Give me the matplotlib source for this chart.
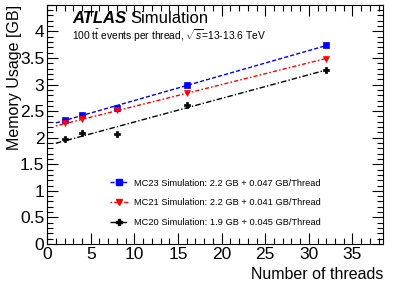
import matplotlib
matplotlib.use("Agg")
import matplotlib.pyplot as plt
import numpy as np
from matplotlib.ticker import MultipleLocator

plt.rcParams['font.family'] = ['Liberation Sans', 'DejaVu Sans']
plt.rcParams['mathtext.fontset'] = 'custom'
plt.rcParams['mathtext.rm'] = 'Liberation Sans'
plt.rcParams['mathtext.it'] = 'Liberation Sans:italic'

threads = [2, 4, 8, 16, 32]
mc23 = [2.34, 2.43, 2.56, 3.00, 3.74]
mc21 = [2.27, 2.35, 2.53, 2.84, 3.49]
mc20 = [1.97, 2.08, 2.07, 2.62, 3.27]

fit_intercepts = [2.23, 2.18, 1.85]
fit_slopes = [0.047, 0.041, 0.0445]
fit_range = [1, 32]

labels = ["MC23 Simulation: 2.2 GB + 0.047 GB/Thread",
          "MC21 Simulation: 2.2 GB + 0.041 GB/Thread",
          "MC20 Simulation: 1.9 GB + 0.045 GB/Thread"]

fig = plt.figure(figsize=(3.99, 2.86), dpi=100)
ax = fig.add_axes([0.118, 0.147, 0.842, 0.836])

series = [mc23, mc21, mc20]
colors = ['#0000ff', '#ff0000', '#000000']
markers = ['s', 'v', 'P']
msizes = [5, 5, 4.5]
linestyles = [(0, (3, 1.5)), (0, (1.2, 1.5, 3, 1.5)), (0, (4, 1.5, 1, 1.5))]

xf = np.array(fit_range, dtype=float)
for y, c, m, ms, ls, b0, b1, lab in zip(series, colors, markers, msizes, linestyles,
                                         fit_intercepts, fit_slopes, labels):
    ax.plot(xf, b0 + b1 * xf, color=c, linestyle=ls, linewidth=1.0)
    ax.plot(threads, y, marker=m, color=c, linestyle='none', markersize=ms,
            markeredgewidth=0.5)
    ax.plot([], [], color=c, linestyle=ls, linewidth=1.0, marker=m,
            markersize=ms * 0.9, label=lab)

ax.set_xlim(0, 38.5)
ax.set_ylim(0, 4.5)
ax.xaxis.set_major_locator(MultipleLocator(5))
ax.xaxis.set_minor_locator(MultipleLocator(1))
ax.yaxis.set_minor_locator(MultipleLocator(0.1))
ax.set_yticks([0, 0.5, 1, 1.5, 2, 2.5, 3, 3.5, 4])
ax.set_yticklabels(['0', '0.5', '1', '1.5', '2', '2.5', '3', '3.5', '4'])
ax.tick_params(which='both', direction='in', top=True, right=True, labelsize=12.5, width=0.8)
ax.tick_params(which='major', length=8, pad=2)
ax.tick_params(which='minor', length=4)
for s in ax.spines.values():
    s.set_linewidth(0.8)

ax.set_xlabel("Number of threads", fontsize=11.5, loc='right')
ax.set_ylabel("Memory Usage [GB]", fontsize=11.5, loc='top')
ax.yaxis.set_label_coords(-0.075, 1.0)

ax.text(0.075, 0.925, "ATLAS", transform=ax.transAxes, fontsize=12,
        fontweight='bold', fontstyle='italic', va='baseline')
ax.text(0.247, 0.925, "Simulation", transform=ax.transAxes, fontsize=12, va='baseline')
ax.text(0.075, 0.855, r"100 $\mathrm{t\bar{t}}$ events per thread, $\sqrt{s}$=13-13.6 TeV",
        transform=ax.transAxes, fontsize=7.4, va='baseline')

leg = ax.legend(loc='lower left', bbox_to_anchor=(0.175, 0.055), frameon=False,
                fontsize=6.7, handlelength=2.0, labelspacing=1.15, handletextpad=0.6,
                borderaxespad=0)

fig.savefig("out.png", dpi=100)
